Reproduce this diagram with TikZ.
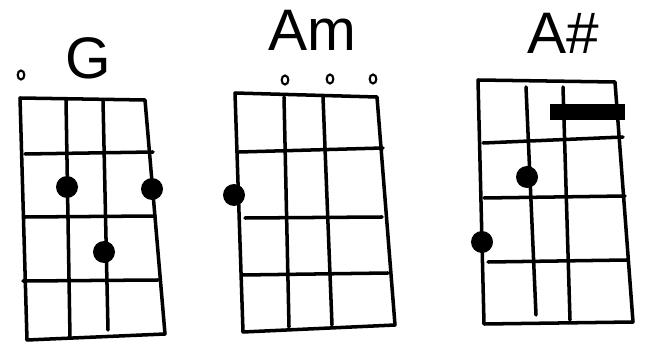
\documentclass[tikz,border=0pt]{standalone}
\usepackage{fontspec}
\setmainfont{Liberation Sans}
\usetikzlibrary{positioning}

\tikzset{
  grid/.style={line width=3pt, line cap=round, line join=round},
  fingerdot/.style={circle, fill=black, inner sep=0pt, minimum size=0.66cm},
  openmark/.style={ellipse, draw, line width=1.8pt, inner sep=0pt, minimum width=0.2cm, minimum height=0.27cm},
  chordname/.style={font=\fontsize{50}{50}\selectfont}
}
\usetikzlibrary{shapes.geometric}

\begin{document}
\begin{tikzpicture}[x=0.03cm, y=-0.03cm]
    \useasboundingbox (0,0) rectangle (645,343);

    % G
    \node[chordname] (gname) at (88,58) {G};
    \node[openmark] (gopen) at (21,75) {};
    \draw[grid] (20,98) -- (145,100) -- (165,334) -- (27,340) -- cycle;
    \draw[grid] (66,100) -- (70,338);
    \draw[grid] (103,100) -- (108,330);
    \draw[grid] (25,154) -- (153,152);
    \draw[grid] (25,217) -- (155,216);
    \draw[grid] (23,281) -- (158,280);
    \node[fingerdot] (gdota) at (67,187) {};
    \node[fingerdot] (gdotb) at (152,189) {};
    \node[fingerdot] (gdotc) at (104,252) {};

    % Am
    \node[chordname] (amname) at (312,30) {Am};
    \node[openmark] (amopena) at (285,80) {};
    \node[openmark] (amopenb) at (330,79) {};
    \node[openmark] (amopenc) at (373,79) {};
    \draw[grid] (235,93) -- (377,97) -- (395,325) -- (243,332) -- cycle;
    \draw[grid] (284,97) -- (289,327);
    \draw[grid] (323,97) -- (332,325);
    \draw[grid] (239,152) -- (383,148);
    \draw[grid] (245,218) -- (382,217);
    \draw[grid] (242,275) -- (388,273);
    \node[fingerdot] (amdot) at (234,195) {};

    % A#
    \node[chordname] (asname) at (563,33) {A\#};
    \draw[grid] (478,80) -- (615,82) -- (633,322) -- (484,324) -- cycle;
    \draw[grid] (526,87) -- (536,315);
    \draw[grid] (563,87) -- (570,320);
    \draw[grid] (483,143) -- (623,137);
    \draw[grid] (484,198) -- (625,196);
    \draw[grid] (488,262) -- (627,260);
    \fill (550,104) rectangle (625,120);
    \node[fingerdot] (asdota) at (527,177) {};
    \node[fingerdot] (asdotb) at (482,242) {};
\end{tikzpicture}
\end{document}
